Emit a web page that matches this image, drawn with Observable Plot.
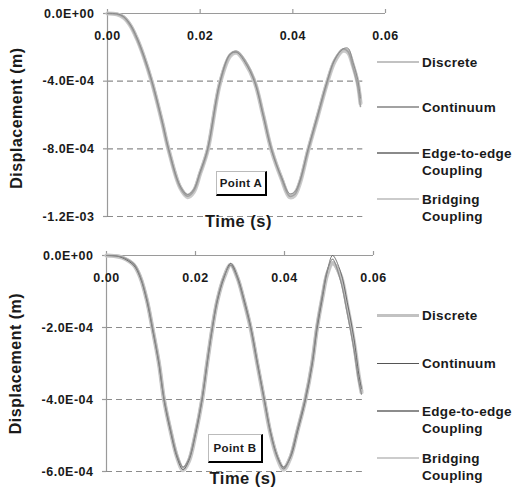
<!DOCTYPE html>
<html>
<head>
<meta charset="utf-8">
<script src="https://cdn.jsdelivr.net/npm/d3@7"></script>
<script src="https://cdn.jsdelivr.net/npm/@observablehq/plot@0.6"></script>
<style>
  html, body { margin: 0; padding: 0; background: #fff; }
  #wrap { position: relative; width: 514px; height: 497px; overflow: hidden; font-family: "Liberation Sans", Arial, sans-serif; font-weight: bold; color: #1a1a1a; }
  .panel { position: absolute; left: 0; }
  .leg { position: absolute; font-size: 13.5px; line-height: 17px; letter-spacing: 0.3px; white-space: nowrap; }
  .sw { position: absolute; width: 42px; }
  .pbox { position: absolute; background: #fff; border-top: 1px solid #bbb; border-left: 1px solid #bbb; border-right: 2px solid #000; border-bottom: 2px solid #000; font-size: 11.5px; letter-spacing: 0.4px; text-align: center; box-sizing: border-box; }
</style>
</head>
<body>
<div id="wrap"></div>
<script>
// ---------- DATA (displacement values in units of 1e-4 m) ----------
const seriesNames = ["Discrete", "Continuum", "Edge-to-edge Coupling", "Bridging Coupling"];

const xTicks = [0, 0.02, 0.04, 0.06];
const xTickLabels = ["0.00", "0.02", "0.04", "0.06"];

// Point A
const yTicksA = [0, -4, -8, -12];
const yTickLabelsA = ["0.0E+00", "-4.0E-04", "-8.0E-04", "-1.2E-03"];
const timeA = [0, 0.002, 0.0035, 0.005, 0.0064, 0.0078, 0.0096, 0.0118, 0.0132, 0.0157, 0.0173, 0.0186, 0.0200, 0.0216, 0.0243, 0.0265, 0.0279, 0.0297, 0.0318, 0.0336, 0.0354, 0.0376, 0.0393, 0.0404, 0.0415, 0.0433, 0.0454, 0.0474, 0.0490, 0.0508, 0.0519, 0.0530, 0.0540, 0.0546];
const discreteA  = [0, -0.03, -0.2, -0.7, -1.5, -2.5, -4.05, -6.4, -8.05, -10.25, -10.75, -10.45, -9.4, -8.05, -4.05, -2.45, -2.28, -2.85, -4.05, -6.0, -8.05, -9.75, -10.75, -10.6, -9.95, -8.05, -6.0, -4.05, -2.8, -2.15, -2.2, -3.05, -4.05, -5.2];
const continuumA = [0, -0.03, -0.22, -0.75, -1.55, -2.55, -4.1, -6.45, -8.1, -10.3, -10.8, -10.5, -9.45, -8.1, -4.1, -2.4, -2.25, -2.8, -4.0, -5.95, -8.0, -9.8, -10.8, -10.7, -10.0, -8.1, -6.05, -4.1, -2.75, -2.1, -2.25, -3.2, -4.3, -5.5];
const edgeA      = [0, -0.02, -0.18, -0.68, -1.45, -2.45, -4.0, -6.35, -8.0, -10.2, -10.7, -10.4, -9.35, -8.0, -4.0, -2.4, -2.3, -2.9, -4.1, -6.05, -8.1, -9.7, -10.65, -10.55, -9.9, -8.0, -5.95, -4.0, -2.75, -2.1, -2.05, -2.9, -3.9, -5.0];
const bridgingA  = [0, -0.04, -0.24, -0.74, -1.52, -2.52, -4.08, -6.42, -8.06, -10.3, -10.85, -10.55, -9.45, -8.1, -4.1, -2.5, -2.32, -2.9, -4.08, -6.02, -8.08, -9.8, -10.85, -10.75, -10.05, -8.1, -6.05, -4.1, -2.85, -2.2, -2.3, -3.1, -4.1, -5.3];
const gridEndA = 0.0551;

// Point B
const yTicksB = [0, -2, -4, -6];
const yTickLabelsB = ["0.0E+00", "-2.0E-04", "-4.0E-04", "-6.0E-04"];
const timeB = [0, 0.002, 0.0035, 0.0061, 0.0076, 0.0091, 0.0103, 0.0118, 0.0129, 0.0144, 0.0159, 0.0172, 0.0185, 0.0200, 0.0215, 0.0226, 0.0238, 0.0249, 0.0264, 0.0279, 0.0294, 0.0309, 0.0324, 0.0339, 0.0354, 0.0369, 0.0384, 0.0398, 0.0413, 0.0429, 0.0447, 0.0462, 0.0473, 0.0485, 0.0496, 0.0508, 0.0526, 0.0541, 0.0556, 0.0567, 0.0573];
const discreteB  = [0, -0.01, -0.05, -0.25, -0.6, -1.25, -2.0, -3.0, -3.98, -4.86, -5.6, -5.92, -5.69, -4.95, -3.98, -3.0, -2.0, -1.25, -0.6, -0.25, -0.6, -1.25, -2.0, -3.0, -3.98, -4.95, -5.6, -5.9, -5.6, -4.86, -3.98, -3.0, -2.0, -1.16, -0.5, -0.2, -0.6, -1.45, -2.45, -3.4, -3.75];
const continuumB = [0, -0.01, -0.06, -0.27, -0.62, -1.28, -2.03, -3.03, -4.0, -4.9, -5.63, -5.95, -5.7, -4.97, -4.0, -3.02, -2.02, -1.27, -0.62, -0.22, -0.58, -1.22, -1.97, -2.97, -3.95, -4.92, -5.58, -5.88, -5.62, -4.9, -4.02, -3.05, -2.05, -1.2, -0.45, 0.0, -0.45, -1.3, -2.3, -3.3, -3.7];
const edgeB      = [0, -0.01, -0.04, -0.23, -0.58, -1.22, -1.97, -2.97, -3.95, -4.83, -5.57, -5.88, -5.66, -4.92, -3.95, -2.97, -1.97, -1.22, -0.58, -0.27, -0.63, -1.28, -2.03, -3.03, -4.0, -4.97, -5.62, -5.93, -5.58, -4.83, -3.95, -2.97, -1.95, -1.1, -0.42, -0.1, -0.7, -1.6, -2.6, -3.5, -3.85];
const bridgingB  = [0, -0.02, -0.06, -0.26, -0.61, -1.26, -2.01, -3.01, -3.99, -4.88, -5.62, -5.96, -5.72, -4.97, -4.0, -3.01, -2.01, -1.26, -0.62, -0.26, -0.61, -1.26, -2.02, -3.02, -4.0, -4.97, -5.63, -5.95, -5.63, -4.88, -4.0, -3.02, -2.02, -1.18, -0.52, -0.22, -0.55, -1.4, -2.4, -3.35, -3.8];
const gridEndB = 0.0575;

// ---------- STYLE ----------
const stylesA = {
  "Discrete": {stroke: "#c2c2c2", w: 3.2, lw: 2},
  "Continuum": {stroke: "#a2a2a2", w: 1.6, lw: 2.6},
  "Edge-to-edge Coupling": {stroke: "#8a8a8a", w: 1.0, lw: 2},
  "Bridging Coupling": {stroke: "#cbcbcb", w: 4.2, lw: 2.6}
};
const stylesB = {
  "Discrete": {stroke: "#c2c2c2", w: 3.4, lw: 3},
  "Continuum": {stroke: "#555555", w: 0.8, lw: 1},
  "Edge-to-edge Coupling": {stroke: "#8c8c8c", w: 1.2, lw: 2},
  "Bridging Coupling": {stroke: "#cccccc", w: 4.2, lw: 2.6}
};
const drawOrder = ["Bridging Coupling", "Discrete", "Continuum", "Edge-to-edge Coupling"];

function panel(o) {
  const seriesVals = {"Discrete": o.discrete, "Continuum": o.continuum, "Edge-to-edge Coupling": o.edge, "Bridging Coupling": o.bridging};
  const lineMarks = drawOrder.map(name => {
    const rows = o.time.map((t, i) => ({t, v: seriesVals[name][i]}));
    return Plot.line(rows, {x: "t", y: "v", curve: "catmull-rom", stroke: o.styles[name].stroke, strokeWidth: o.styles[name].w, strokeLinejoin: "round"});
  });
  const yMin = o.yTicks[o.yTicks.length - 1];
  return Plot.plot({
    width: 514, height: o.height,
    marginLeft: o.ml, marginRight: o.mr, marginTop: o.mt, marginBottom: o.mb,
    x: {domain: [0, 0.06], axis: null},
    y: {domain: [yMin, 0], axis: null},
    style: {fontFamily: "'Liberation Sans', Arial, sans-serif", fontWeight: "bold", color: "#1a1a1a", background: "transparent", overflow: "visible", letterSpacing: "0.5px"},
    marks: [
      Plot.ruleY(o.yTicks.filter(d => d !== 0), {y: d => d, x1: 0, x2: o.gridEnd, stroke: "#8c8c8c", strokeWidth: 1.1, strokeDasharray: "6,4"}),
      Plot.ruleX([0], {x: d => d, y1: yMin, y2: 0, stroke: "#9a9a9a", strokeWidth: 1.2}),
      Plot.ruleY([0], {y: d => d, x1: 0, x2: 0.06, stroke: "#9a9a9a", strokeWidth: 1.2}),
      Plot.ruleX(xTicks, {x: d => d, y1: 0, y2: 0, insetTop: -4, stroke: "#9a9a9a", strokeWidth: 1.2}),
      Plot.ruleY(o.yTicks, {y: d => d, x1: 0, x2: 0, insetLeft: -4, stroke: "#9a9a9a", strokeWidth: 1.2}),
      Plot.text(xTicks, {x: d => d, y: 0, dy: 22, text: (d, i) => xTickLabels[i], fontSize: 12.5, fill: "#1a1a1a"}),
      Plot.text(o.yTicks, {x: 0, y: d => d, dx: -13, textAnchor: "end", text: (d, i) => o.yLabels[i], fontSize: 12.5, fill: "#1a1a1a"}),
      ...lineMarks,
      Plot.text(["Time (s)"], {frameAnchor: "bottom", dx: o.tdx, dy: o.tdy, fontSize: 16.5, fill: "#1a1a1a"}),
      Plot.text(["Displacement (m)"], {frameAnchor: "left", textAnchor: "middle", rotate: -90, dx: -91, dy: o.ddy, fontSize: 16, fill: "#1a1a1a"})
    ]
  });
}

const wrap = document.getElementById("wrap");

const topPanel = panel({
  height: 248, ml: 107, mr: 129, mt: 13, mb: 32,
  time: timeA, discrete: discreteA, continuum: continuumA, edge: edgeA, bridging: bridgingA,
  yTicks: yTicksA, yLabels: yTickLabelsA, gridEnd: gridEndA, styles: stylesA,
  tdx: -8, tdy: 10, ddy: 3
});
topPanel.classList.add("panel");
topPanel.style.top = "0px";
wrap.appendChild(topPanel);

const botPanel = panel({
  height: 249, ml: 106, mr: 141, mt: 7, mb: 26,
  time: timeB, discrete: discreteB, continuum: continuumB, edge: edgeB, bridging: bridgingB,
  yTicks: yTicksB, yLabels: yTickLabelsB, gridEnd: gridEndB, styles: stylesB,
  tdx: 3, tdy: 12, ddy: 0
});
botPanel.classList.add("panel");
botPanel.style.top = "248px";
wrap.appendChild(botPanel);

// ---------- LEGENDS ----------
function legend(items, styles) {
  items.forEach(it => {
    const s = styles[it.name];
    const sw = document.createElement("div");
    sw.className = "sw";
    sw.style.left = "377px";
    sw.style.top = (it.y - s.lw / 2) + "px";
    sw.style.height = s.lw + "px";
    sw.style.background = s.stroke;
    wrap.appendChild(sw);
    const t = document.createElement("div");
    t.className = "leg";
    t.style.left = "422px";
    t.style.top = (it.y - 8.5) + "px";
    t.innerHTML = it.label;
    wrap.appendChild(t);
  });
}
legend([
  {name: seriesNames[0], label: "Discrete", y: 62},
  {name: seriesNames[1], label: "Continuum", y: 107},
  {name: seriesNames[2], label: "Edge-to-edge<br>Coupling", y: 153},
  {name: seriesNames[3], label: "Bridging<br>Coupling", y: 199}
], stylesA);
legend([
  {name: seriesNames[0], label: "Discrete", y: 315},
  {name: seriesNames[1], label: "Continuum", y: 363},
  {name: seriesNames[2], label: "Edge-to-edge<br>Coupling", y: 411},
  {name: seriesNames[3], label: "Bridging<br>Coupling", y: 458}
], stylesB);

// ---------- POINT LABELS ----------
function pbox(label, left, topPx, w, h) {
  const b = document.createElement("div");
  b.className = "pbox";
  b.style.left = left + "px"; b.style.top = topPx + "px";
  b.style.width = w + "px"; b.style.height = h + "px";
  b.style.lineHeight = (h - 3) + "px";
  b.textContent = label;
  wrap.appendChild(b);
}
pbox("Point A", 216, 171, 51, 25);
pbox("Point B", 208, 434, 55, 29);
</script>
</body>
</html>
